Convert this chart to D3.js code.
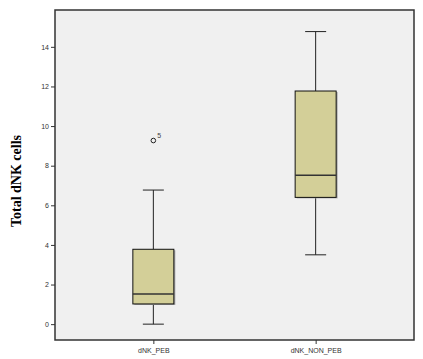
<!DOCTYPE html>
<html><head><meta charset="utf-8">
<script src="https://cdn.jsdelivr.net/npm/d3@7"></script>
<style>body{margin:0;background:#fff}</style>
</head><body><div id="chart"></div>
<script>
const categories = ["dNK_PEB", "dNK_NON_PEB"];
const lowerWhisker = [0, 3.5];
const q1 = [1.02, 6.4];
const median = [1.52, 7.52];
const q3 = [3.78, 11.77];
const upperWhisker = [6.77, 14.77];
const outliers = [{cat: "dNK_PEB", value: 9.27, label: "5"}];
const yTicks = [0, 2, 4, 6, 8, 10, 12, 14];

const W = 423, H = 359;
const m = {left: 55, right: 9, top: 10, bottom: 19};
const svg = d3.select("#chart").append("svg").attr("width", W).attr("height", H);

const x = d3.scalePoint().domain(categories).range([m.left, W - m.right]).padding(0.606);
const y = d3.scaleLinear().domain([-0.8, 15.86]).range([H - m.bottom, m.top]);

svg.append("rect").attr("x", m.left).attr("y", m.top)
  .attr("width", W - m.right - m.left).attr("height", H - m.bottom - m.top)
  .attr("fill", "#f0f0f0").attr("stroke", "#333").attr("stroke-width", 1.5);

// y axis
const yAxis = svg.append("g").attr("transform", `translate(${m.left},0)`)
  .call(d3.axisLeft(y).tickValues(yTicks).tickSize(4).tickPadding(2));
yAxis.select(".domain").remove();
yAxis.selectAll("line").attr("stroke", "#333");
yAxis.selectAll("text").attr("font-family", "Liberation Sans, Arial, sans-serif").attr("font-size", 7).attr("fill", "#333");

// x axis
const xAxis = svg.append("g").attr("transform", `translate(0,${H - m.bottom})`)
  .call(d3.axisBottom(x).tickSize(4).tickPadding(4));
xAxis.select(".domain").remove();
xAxis.selectAll("line").attr("stroke", "#333");
xAxis.selectAll("text").attr("font-family", "Liberation Sans, Arial, sans-serif").attr("font-size", 7).attr("fill", "#333");

const bw = 41, cap = 21;
categories.forEach((c, i) => {
  const cx = x(c);
  const g = svg.append("g");
  g.append("line").attr("x1", cx).attr("x2", cx).attr("y1", y(upperWhisker[i])).attr("y2", y(q3[i])).attr("stroke", "#222");
  g.append("line").attr("x1", cx).attr("x2", cx).attr("y1", y(q1[i])).attr("y2", y(lowerWhisker[i])).attr("stroke", "#222");
  g.append("line").attr("x1", cx - cap/2).attr("x2", cx + cap/2).attr("y1", y(upperWhisker[i])).attr("y2", y(upperWhisker[i])).attr("stroke", "#222");
  g.append("line").attr("x1", cx - cap/2).attr("x2", cx + cap/2).attr("y1", y(lowerWhisker[i])).attr("y2", y(lowerWhisker[i])).attr("stroke", "#222");
  g.append("rect").attr("x", cx - bw/2 + 1.5).attr("y", y(q3[i]) + 1).attr("width", bw).attr("height", y(q1[i]) - y(q3[i]))
    .attr("fill", "#aaa");
  g.append("rect").attr("x", cx - bw/2).attr("y", y(q3[i])).attr("width", bw).attr("height", y(q1[i]) - y(q3[i]))
    .attr("fill", "#d3cf98").attr("stroke", "#111").attr("stroke-width", 1);
  g.append("line").attr("x1", cx - bw/2).attr("x2", cx + bw/2).attr("y1", y(median[i])).attr("y2", y(median[i]))
    .attr("stroke", "#333").attr("stroke-width", 1.5);
});

outliers.forEach(o => {
  svg.append("circle").attr("cx", x(o.cat)).attr("cy", y(o.value)).attr("r", 2.3)
    .attr("fill", "none").attr("stroke", "#222").attr("stroke-width", 1);
  svg.append("text").attr("x", x(o.cat) + 4).attr("y", y(o.value) - 3)
    .attr("font-family", "Liberation Sans, Arial, sans-serif").attr("font-size", 7).attr("fill", "#444").text(o.label);
});

svg.append("text").attr("transform", `translate(21,${(m.top + H - m.bottom)/2 + 6}) rotate(-90)`)
  .attr("text-anchor", "middle").attr("font-family", "Liberation Serif, Times New Roman, serif")
  .attr("font-weight", "bold").attr("font-size", 14).attr("fill", "#000").text("Total dNK cells");
</script></body></html>
